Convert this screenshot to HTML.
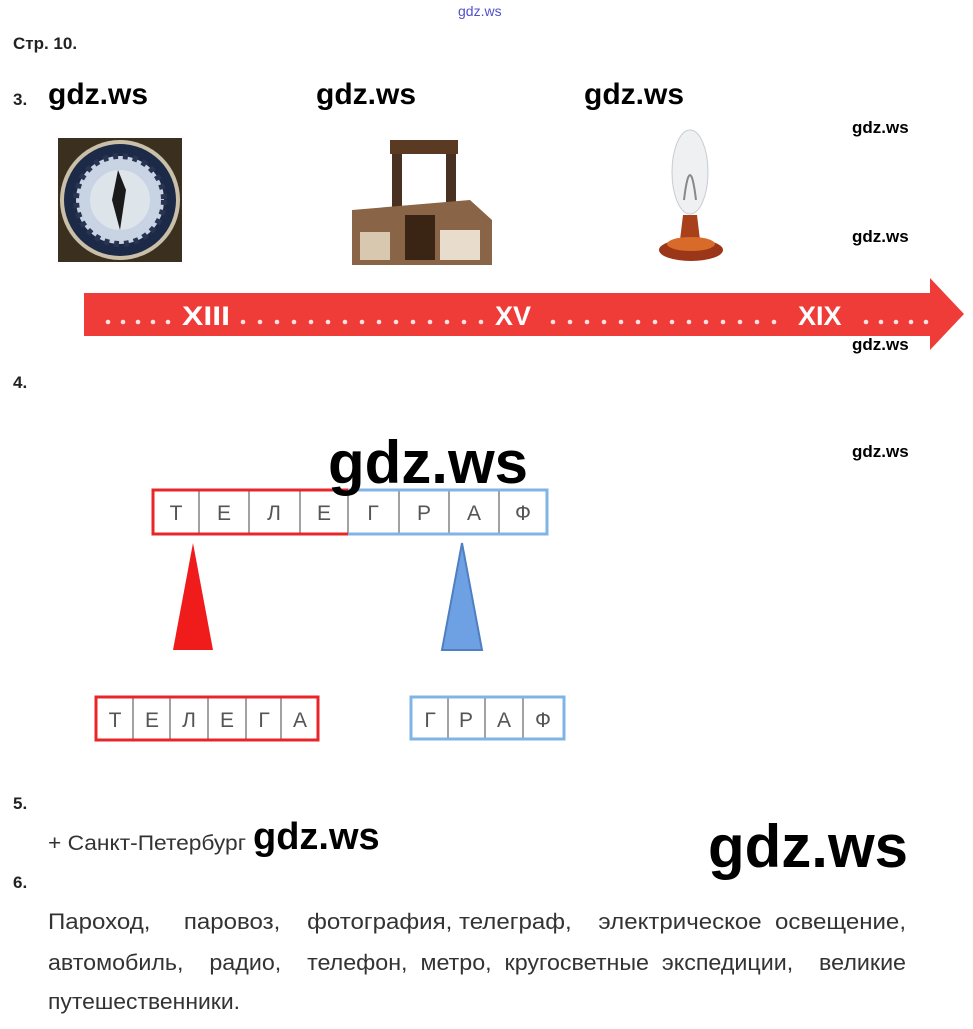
<!DOCTYPE html>
<html><head><meta charset="utf-8"><style>
html,body{margin:0;padding:0;background:#fff;}
body{width:973px;height:1029px;position:relative;overflow:hidden;font-family:"Liberation Sans",sans-serif;}
.a{position:absolute;white-space:nowrap;}
.b{font-weight:bold;font-size:17px;color:#222;}
.w{font-family:"Liberation Sans","DejaVu Sans",sans-serif;color:#000;font-weight:bold;}
</style></head><body>
<div class="a" style="left:458px;top:3px;font-size:14px;color:#5050d0;">gdz.ws</div>
<div class="a b" style="left:13px;top:34px;">Стр. 10.</div>
<div class="a b" style="left:13px;top:90px;">3.</div>
<div class="a w" style="left:48px;top:78px;font-size:30px;">gdz.ws</div>
<div class="a w" style="left:316px;top:78px;font-size:30px;">gdz.ws</div>
<div class="a w" style="left:584px;top:78px;font-size:30px;">gdz.ws</div>
<div class="a w" style="left:852px;top:118px;font-size:17px;">gdz.ws</div>
<div class="a w" style="left:852px;top:227px;font-size:17px;">gdz.ws</div>

<svg class="a" style="left:0;top:0" width="973" height="800">
 <rect x="58" y="138" width="124" height="124" fill="#3b3020"/>
 <circle cx="120" cy="200" r="60" fill="#c9c0a8"/>
 <circle cx="120" cy="200" r="56" fill="#1c2a48"/>
 <circle cx="120" cy="200" r="44" fill="#c8d4e4" stroke="#2a3450" stroke-width="6" stroke-dasharray="5 5"/>
 <circle cx="120" cy="200" r="30" fill="#dde4ea"/>
 <path d="M118 170 L126 190 L120 230 L112 200 Z" fill="#1a1a1a"/>
 <rect x="392" y="140" width="10" height="110" fill="#4a3020"/>
 <rect x="446" y="140" width="10" height="110" fill="#4a3020"/>
 <rect x="390" y="140" width="68" height="14" fill="#5a3a22"/>
 <path d="M352 210 L470 200 L492 220 L492 265 L352 265 Z" fill="#8a6446"/>
 <rect x="405" y="215" width="30" height="45" fill="#3a2414"/>
 <rect x="440" y="230" width="40" height="30" fill="#e8dccc"/>
 <rect x="360" y="232" width="30" height="28" fill="#d8c8b0"/>
 <ellipse cx="690" cy="172" rx="18" ry="42" fill="#eef0f2" stroke="#c8ccd0"/>
 <path d="M684 200 Q690 150 696 200" fill="none" stroke="#888" stroke-width="2"/>
 <path d="M683 215 L697 215 L700 240 L680 240 Z" fill="#a8401c"/>
 <ellipse cx="691" cy="250" rx="32" ry="11" fill="#9c3618"/>
 <ellipse cx="691" cy="244" rx="24" ry="7" fill="#d86a2a"/>
 <path d="M84 293 L930 293 L930 278 L964 314 L930 350 L930 336 L84 336 Z" fill="#f03c38"/>
 <g fill="#fff" font-family="Liberation Sans,sans-serif" font-weight="bold" font-size="27">
  <text x="182" y="325" textLength="48" lengthAdjust="spacingAndGlyphs">XIII</text>
  <text x="495" y="325">XV</text>
  <text x="798" y="325">XIX</text>
 </g>
 <g fill="#fff" fill-opacity="0.85">
  <circle cx="108" cy="322" r="2.3"/><circle cx="123" cy="322" r="2.3"/><circle cx="138" cy="322" r="2.3"/><circle cx="153" cy="322" r="2.3"/><circle cx="168" cy="322" r="2.3"/>
  <circle cx="243" cy="322" r="2.3"/><circle cx="260" cy="322" r="2.3"/><circle cx="277" cy="322" r="2.3"/><circle cx="294" cy="322" r="2.3"/><circle cx="311" cy="322" r="2.3"/><circle cx="328" cy="322" r="2.3"/><circle cx="345" cy="322" r="2.3"/><circle cx="362" cy="322" r="2.3"/><circle cx="379" cy="322" r="2.3"/><circle cx="396" cy="322" r="2.3"/><circle cx="413" cy="322" r="2.3"/><circle cx="430" cy="322" r="2.3"/><circle cx="447" cy="322" r="2.3"/><circle cx="464" cy="322" r="2.3"/><circle cx="481" cy="322" r="2.3"/>
  <g transform="translate(310 0)"><circle cx="243" cy="322" r="2.3"/><circle cx="260" cy="322" r="2.3"/><circle cx="277" cy="322" r="2.3"/><circle cx="294" cy="322" r="2.3"/><circle cx="311" cy="322" r="2.3"/><circle cx="328" cy="322" r="2.3"/><circle cx="345" cy="322" r="2.3"/><circle cx="362" cy="322" r="2.3"/><circle cx="379" cy="322" r="2.3"/><circle cx="396" cy="322" r="2.3"/><circle cx="413" cy="322" r="2.3"/><circle cx="430" cy="322" r="2.3"/><circle cx="447" cy="322" r="2.3"/><circle cx="464" cy="322" r="2.3"/></g>
  <circle cx="866" cy="322" r="2.3"/><circle cx="881" cy="322" r="2.3"/><circle cx="896" cy="322" r="2.3"/><circle cx="911" cy="322" r="2.3"/><circle cx="926" cy="322" r="2.3"/>
 </g>
 <g stroke="#444" stroke-width="1">
  <line x1="199" y1="489" x2="199" y2="535"/><line x1="249" y1="489" x2="249" y2="535"/>
  <line x1="300" y1="489" x2="300" y2="535"/><line x1="348" y1="489" x2="348" y2="535"/>
  <line x1="399" y1="489" x2="399" y2="535"/><line x1="449" y1="489" x2="449" y2="535"/>
  <line x1="499" y1="489" x2="499" y2="535"/>
  <line x1="133" y1="697" x2="133" y2="740"/><line x1="170" y1="697" x2="170" y2="740"/>
  <line x1="208" y1="697" x2="208" y2="740"/><line x1="246" y1="697" x2="246" y2="740"/>
  <line x1="281" y1="697" x2="281" y2="740"/>
  <line x1="448" y1="697" x2="448" y2="740"/><line x1="485" y1="697" x2="485" y2="740"/>
  <line x1="523" y1="697" x2="523" y2="740"/>
 </g>
 <path d="M348 490 L153 490 L153 534 L348 534" fill="none" stroke="#e8262a" stroke-width="3"/>
 <path d="M348 490 L547 490 L547 534 L348 534" fill="none" stroke="#7fb4e4" stroke-width="3"/>
 <rect x="96" y="697" width="222" height="43" fill="none" stroke="#e8262a" stroke-width="3"/>
 <rect x="411" y="697" width="153" height="42" fill="none" stroke="#7fb4e4" stroke-width="3"/>
 <path d="M193 543 L213 650 L173 650 Z" fill="#f01c1c"/>
 <path d="M462 543 L482 650 L442 650 Z" fill="#6ea0e4" stroke="#4f7fc0" stroke-width="2"/>
 <g font-family="Liberation Sans,sans-serif" font-size="21" fill="#555" text-anchor="middle">
  <text x="176" y="520">Т</text><text x="224" y="520">Е</text><text x="274" y="520">Л</text><text x="324" y="520">Е</text>
  <text x="373" y="520">Г</text><text x="424" y="520">Р</text><text x="474" y="520">А</text><text x="523" y="520">Ф</text>
  <text x="115" y="727">Т</text><text x="152" y="727">Е</text><text x="189" y="727">Л</text><text x="227" y="727">Е</text>
  <text x="264" y="727">Г</text><text x="300" y="727">А</text>
  <text x="430" y="727">Г</text><text x="466" y="727">Р</text><text x="504" y="727">А</text><text x="543" y="727">Ф</text>
 </g>
</svg>

<div class="a w" style="left:852px;top:335px;font-size:17px;">gdz.ws</div>
<div class="a b" style="left:13px;top:373px;">4.</div>
<div class="a w" style="left:852px;top:442px;font-size:17px;">gdz.ws</div>
<div class="a w" style="left:328px;top:427px;font-size:60px;line-height:72px;">gdz.ws</div>

<div class="a b" style="left:13px;top:794px;">5.</div>
<div class="a w" style="left:253px;top:812px;font-size:38px;line-height:50px;">gdz.ws</div>
<div class="a w" style="left:708px;top:808px;font-size:60px;line-height:78px;">gdz.ws</div>
<div class="a b" style="left:13px;top:873px;">6.</div>
<svg class="a" style="left:0;top:820px" width="973" height="209">
 <g font-family="Liberation Sans,sans-serif" font-size="22" fill="#333">
  <text x="48" y="30" font-size="21" textLength="198" lengthAdjust="spacingAndGlyphs">+ Санкт-Петербург</text>
  <text x="48" y="109" textLength="858" lengthAdjust="spacingAndGlyphs">Пароход,&#160;&#160;&#160;&#160;&#160;паровоз,&#160;&#160;&#160;&#160;фотография,&#160;телеграф,&#160;&#160;&#160;&#160;электрическое&#160;&#160;освещение,</text>
  <text x="48" y="150" textLength="858" lengthAdjust="spacingAndGlyphs">автомобиль,&#160;&#160;&#160;&#160;радио,&#160;&#160;&#160;&#160;телефон,&#160;&#160;метро,&#160;&#160;кругосветные&#160;&#160;экспедиции,&#160;&#160;&#160;&#160;великие</text>
  <text x="48" y="189" textLength="192" lengthAdjust="spacingAndGlyphs">путешественники.</text>
 </g>
</svg>
</body></html>
